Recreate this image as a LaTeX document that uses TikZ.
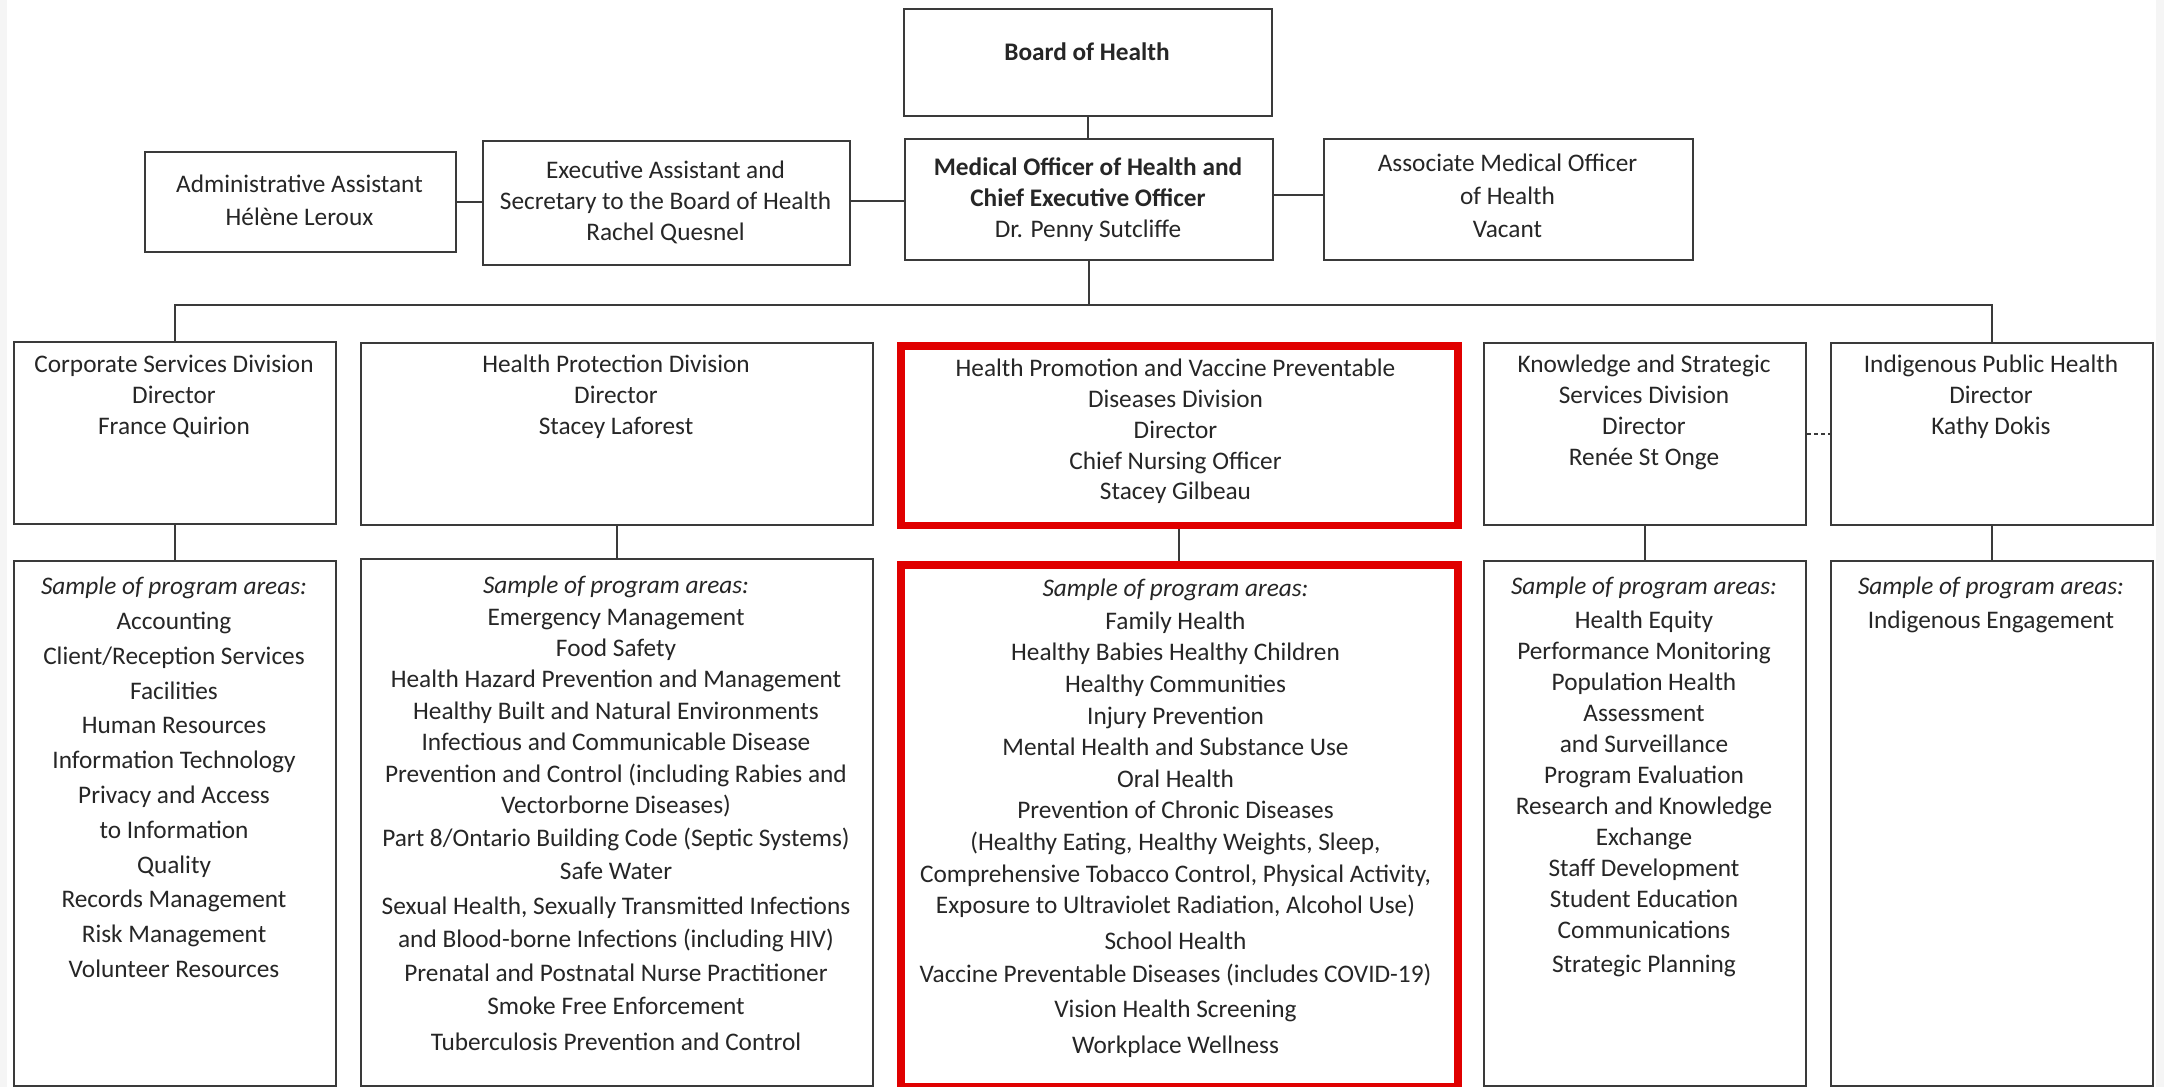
\documentclass[tikz,border=0pt]{standalone}
\usepackage{fontspec}
\setmainfont{Carlito}
\definecolor{ln}{HTML}{3A3A3A}
\definecolor{rd}{HTML}{E00000}
\begin{document}
\begin{tikzpicture}[x=1pt,y=-1pt,
  box/.style={draw=ln,line width=2.2pt,inner sep=0pt,anchor=north west,fill=white},
  rbox/.style={draw=rd,line width=7.5pt,inner sep=0pt,anchor=north west,fill=white},
  link/.style={draw=ln,line width=2pt},
  txt/.style={inner sep=0pt,align=center,anchor=north,text=black!85,font=\fontsize{25.3}{31}\selectfont},
]
\useasboundingbox (0,0) rectangle (2164,1087);
\fill[gray!8] (0,0) rectangle (7,1087);
\fill[gray!8] (2156,0) rectangle (2164,1087);

% boxes
\node[box,minimum width=368pt,minimum height=107pt] (board) at (903,8) {};
\node[box,minimum width=368pt,minimum height=121pt] (moh) at (904,138) {};
\node[box,minimum width=367pt,minimum height=124pt] (exec) at (482,140) {};
\node[box,minimum width=311pt,minimum height=100pt] (admin) at (144,151) {};
\node[box,minimum width=369pt,minimum height=121pt] (assoc) at (1323,138) {};

\node[box,minimum width=322pt,minimum height=182pt] (corp) at (13,341) {};
\node[box,minimum width=512pt,minimum height=182pt] (hp) at (360,342) {};
\node[rbox,minimum width=557pt,minimum height=179.5pt] (hpv) at (897,342) {};
\node[box,minimum width=322pt,minimum height=182pt] (ksd) at (1483,342) {};
\node[box,minimum width=322pt,minimum height=182pt] (iph) at (1830,342) {};

\node[box,minimum width=322pt,minimum height=525pt] (corpS) at (13,560) {};
\node[box,minimum width=512pt,minimum height=527pt] (hpS) at (360,558) {};
\node[rbox,minimum width=557pt,minimum height=522pt] (hpvS) at (897,561) {};
\node[box,minimum width=322pt,minimum height=525pt] (ksdS) at (1483,560) {};
\node[box,minimum width=322pt,minimum height=525pt] (iphS) at (1830,560) {};

% connectors
\coordinate (bus) at (1087,305);
\draw[link] (board.south) -- (board.south |- moh.north);
\draw[link] (admin.east) -- (admin.east -| exec.west);
\draw[link] ([yshift=2pt]exec.east) -- ([yshift=2pt]exec.east -| moh.west);
\draw[link] ([yshift=5pt]moh.east) -- ([yshift=5pt]moh.east -| assoc.west);
\draw[link] (moh.south) -- (moh.south |- bus);
\draw[link] (corp.north) |- (bus) -| (iph.north);
\draw[link] (corp.south) -- (corpS.north);
\draw[link] (hp.south) -- (hpS.north);
\draw[link] (hpv.south) -- (hpvS.north);
\draw[link] (ksd.south) -- (ksdS.north);
\draw[link] (iph.south) -- (iphS.north);
\draw[link,dash pattern=on 4pt off 3pt] (ksd.east) -- (iph.west);

% texts top
\node[txt] (boardT) at (1087,43) {\bfseries Board of Health};
\node[txt] (mohT) at (1088,158) {\bfseries Medical Officer of Health and\\ \bfseries Chief Executive Officer\\ Dr. Penny Sutcliffe};
\node[txt] (execT) at (665.5,161) {Executive Assistant and\\ Secretary to the Board of Health\\ Rachel Quesnel};
\node[txt,font=\fontsize{25.3}{33}\selectfont] (adminT) at (299.5,175) {Administrative Assistant\\ Hélène Leroux};
\node[txt,font=\fontsize{25.3}{33}\selectfont] (assocT) at (1507.5,154) {Associate Medical Officer\\ of Health\\ Vacant};

% division texts
\node[txt] (corpT) at (174,355) {Corporate Services Division\\ Director\\ France Quirion};
\node[txt] (hpT) at (616,355) {Health Protection Division\\ Director\\ Stacey Laforest};
\node[txt,font=\fontsize{25.3}{30.8}\selectfont] (hpvT) at (1175.5,359) {Health Promotion and Vaccine Preventable\\ Diseases Division\\ Director\\ Chief Nursing Officer\\ Stacey Gilbeau};
\node[txt] (ksdT) at (1644,355) {Knowledge and Strategic\\ Services Division\\ Director\\ Renée St Onge};
\node[txt] (iphT) at (1991,355) {Indigenous Public Health\\ Director\\ Kathy Dokis};

% sample texts
\node[txt,font=\fontsize{25.3}{34.8}\selectfont] (corpL) at (174,577) {\itshape Sample of program areas:\\ Accounting\\ Client/Reception Services\\ Facilities\\ Human Resources\\ Information Technology\\ Privacy and Access\\ to Information\\ Quality\\ Records Management\\ Risk Management\\ Volunteer Resources};
\node[txt,font=\fontsize{25.3}{31.4}\selectfont] (hpL) at (616,576) {\itshape Sample of program areas:\\ Emergency Management\\ Food Safety\\ Health Hazard Prevention and Management\\ Healthy Built and Natural Environments\\ Infectious and Communicable Disease\\ Prevention and Control (including Rabies and\\ Vectorborne Diseases)\\[1.5pt] Part 8/Ontario Building Code (Septic Systems)\\[1.5pt] Safe Water\\[3.5pt] Sexual Health, Sexually Transmitted Infections\\[1.5pt] and Blood-borne Infections (including HIV)\\[3pt] Prenatal and Postnatal Nurse Practitioner\\[2pt] Smoke Free Enforcement\\[4pt] Tuberculosis Prevention and Control};
\node[txt,font=\fontsize{25.3}{31.6}\selectfont] (hpvL) at (1175.5,579) {\itshape Sample of program areas:\\[1pt] Family Health\\ Healthy Babies Healthy Children\\ Healthy Communities\\ Injury Prevention\\ Mental Health and Substance Use\\ Oral Health\\ Prevention of Chronic Diseases\\ (Healthy Eating, Healthy Weights, Sleep,\\ Comprehensive Tobacco Control, Physical Activity,\\ Exposure to Ultraviolet Radiation, Alcohol Use)\\[4pt] School Health\\[2pt] Vaccine Preventable Diseases (includes COVID-19)\\[3pt] Vision Health Screening\\[4pt] Workplace Wellness};
\node[txt,font=\fontsize{25.3}{31}\selectfont] (ksdL) at (1644,577) {\itshape Sample of program areas:\\[3pt] Health Equity\\ Performance Monitoring\\ Population Health\\ Assessment\\ and Surveillance\\ Program Evaluation\\ Research and Knowledge\\ Exchange\\ Staff Development\\ Student Education\\ Communications\\[3pt] Strategic Planning};
\node[txt,font=\fontsize{25.3}{34}\selectfont] (iphL) at (1991,577) {\itshape Sample of program areas:\\ Indigenous Engagement};
\end{tikzpicture}
\end{document}
